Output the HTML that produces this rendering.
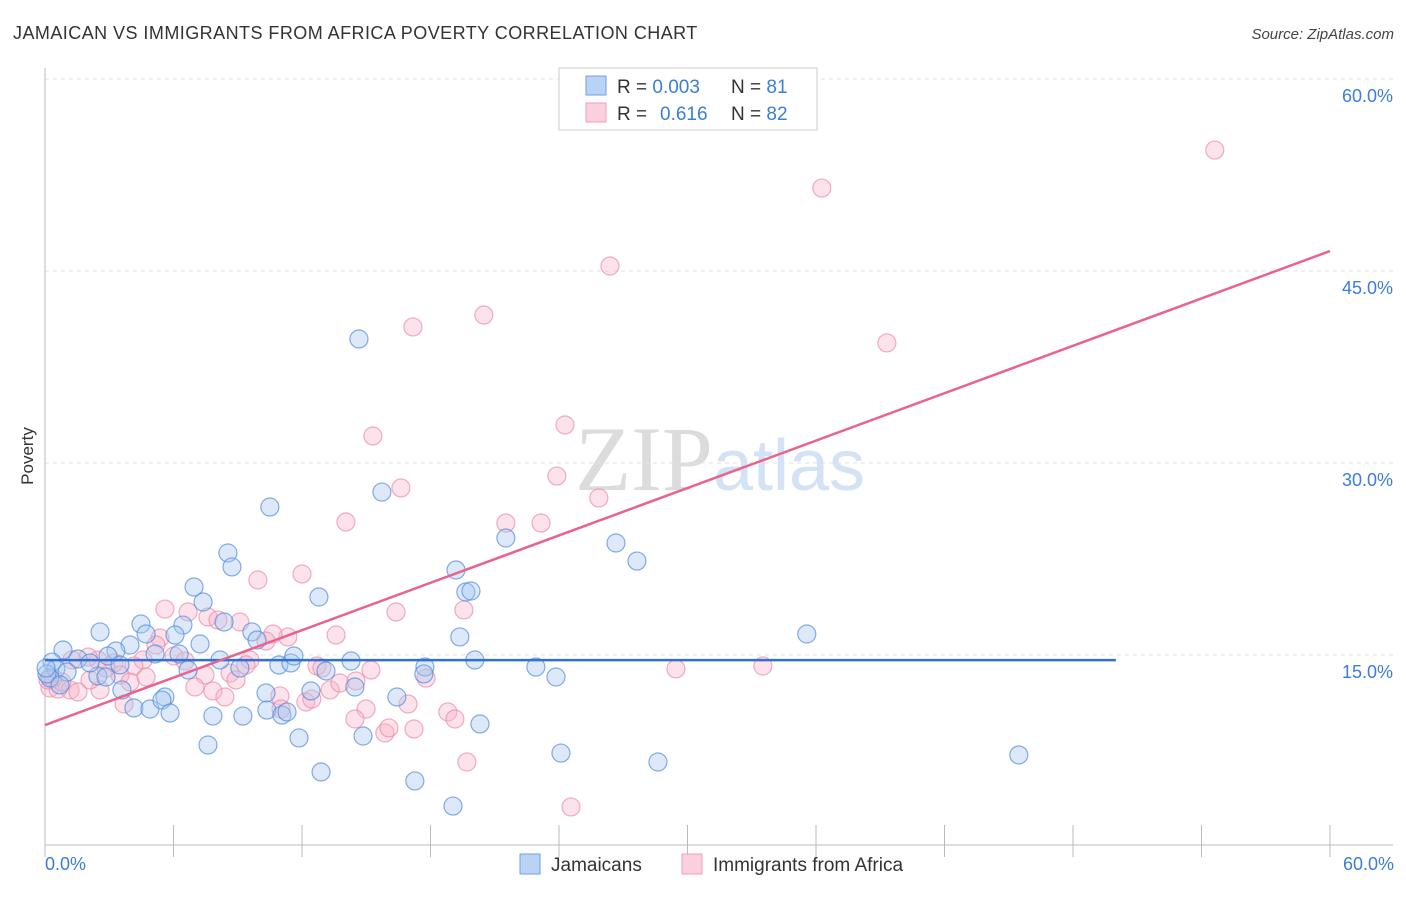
<!DOCTYPE html>
<html><head><meta charset="utf-8"><style>
body{margin:0;background:#fff;font-family:"Liberation Sans",sans-serif}
svg text{font-family:"Liberation Sans",sans-serif}
</style></head><body>
<svg id="chart" width="1406" height="892" viewBox="0 0 1406 892" xmlns="http://www.w3.org/2000/svg">
<text x="13" y="39" font-size="18" fill="#333" letter-spacing="0.45">JAMAICAN VS IMMIGRANTS FROM AFRICA POVERTY CORRELATION CHART</text>
<text x="1394" y="39" font-size="15" fill="#444" font-style="italic" text-anchor="end">Source: ZipAtlas.com</text>
<text x="720" y="490" font-size="92" text-anchor="middle"><tspan font-family="Liberation Serif,serif" fill="#dcdcdc">ZIP</tspan><tspan fill="#d3e2f4" font-size="72">atlas</tspan></text>
<g id="grid"></g>
<line x1="45" y1="68" x2="45" y2="845" stroke="#bbb"/>
<line x1="45" y1="845" x2="1393" y2="845" stroke="#bbb"/>
<g id="xticks"></g>
<text transform="translate(33,456) rotate(-90)" font-size="17" fill="#333" text-anchor="middle">Poverty</text>
<text x="45" y="870" font-size="18" fill="#3b7dd8">0.0%</text>
<text x="1394" y="870" font-size="18" fill="#3b7dd8" text-anchor="end">60.0%</text>
<g id="pts"></g>
<g id="lines"></g>
<g>
<rect x="559" y="68" width="258" height="62" fill="#fff" stroke="#ccc"/>
<rect x="586" y="76" width="20" height="19" fill="#b9d3f5" stroke="#6f9fe0"/>
<rect x="586" y="103" width="20" height="19" fill="#fbd0dd" stroke="#ef9fb8"/>
<text x="617" y="93" font-size="19" fill="#333">R = <tspan fill="#3b7dd8">0.003</tspan><tspan x="731">N = </tspan><tspan fill="#3b7dd8">81</tspan></text>
<text x="617" y="120" font-size="19" fill="#333">R = <tspan fill="#3b7dd8" x="660">0.616</tspan><tspan x="731">N = </tspan><tspan fill="#3b7dd8">82</tspan></text>
</g>
<g>
<rect x="520" y="854" width="20" height="20" fill="#b9d3f5" stroke="#6f9fe0"/>
<text x="551" y="871" font-size="19" fill="#333">Jamaicans</text>
<rect x="682" y="854" width="20" height="20" fill="#fbd0dd" stroke="#ef9fb8"/>
<text x="713" y="871" font-size="19" fill="#333">Immigrants from Africa</text>
</g>
</svg>
<script>
const yTicks=[15,30,45,60];
const xTickVals=[0,6,12,18,24,30,36,42,48,54,60];
const blueX=[14.66,15.73,10.50,21.52,26.66,27.64,8.54,8.73,19.19,19.65,19.89,6.96,7.38,12.79,35.57,2.57,4.48,6.44,4.72,6.07,8.36,7.24,9.66,9.90,19.37,3.97,0.84,3.31,1.54,2.94,5.14,6.26,8.17,10.92,11.48,11.62,14.29,17.74,20.07,22.92,17.69,13.12,6.68,9.10,0.33,0.51,1.03,0.23,2.47,2.85,3.59,4.15,4.90,5.60,5.46,5.84,7.84,9.24,10.32,12.42,14.47,16.43,10.36,11.06,11.30,11.86,14.85,20.31,23.86,24.09,28.62,45.47,7.61,12.89,17.27,19.05,0.09,0.70,0.05,2.10,3.50];
const blueY=[39.69,27.73,26.56,24.14,23.75,22.34,22.97,21.88,21.64,19.92,20.00,20.31,19.14,19.53,16.64,16.80,17.42,17.34,16.64,16.56,17.58,15.86,16.80,16.17,16.41,15.78,15.39,15.31,14.69,14.92,15.08,15.08,14.61,14.22,14.38,14.92,14.53,14.06,14.61,14.06,13.52,13.75,13.83,13.98,14.45,13.91,13.67,13.20,13.36,13.28,12.27,10.86,10.78,11.72,11.48,10.47,10.23,10.23,12.03,12.19,12.50,11.72,10.70,10.31,10.55,8.52,8.67,9.61,13.28,7.34,6.64,7.19,7.97,5.86,5.16,3.20,13.52,12.66,13.98,14.38,14.22];
const pinkX=[54.62,36.27,26.38,20.49,17.18,39.31,15.31,24.28,23.90,16.62,25.86,14.05,21.52,23.16,9.94,12.00,5.60,6.68,7.61,8.08,9.10,19.56,16.39,13.59,11.34,10.64,10.32,5.37,5.18,6.02,6.54,9.57,9.38,8.64,7.47,12.70,12.93,15.22,17.79,29.46,33.52,4.58,4.15,3.22,2.47,2.01,3.50,2.85,3.97,2.57,3.69,7.00,7.84,8.40,8.92,10.97,11.02,12.18,12.46,13.31,13.77,14.52,14.99,14.47,15.87,16.06,17.23,16.95,18.81,19.14,19.70,24.56,0.23,0.61,1.17,1.54,0.79,0.14,0.37,2.10,4.72,1.26];
const pinkY=[54.45,51.48,45.39,41.56,40.63,39.38,32.11,32.97,28.98,28.05,27.27,25.39,25.31,25.31,20.86,21.33,18.59,18.36,17.97,17.73,17.58,18.52,18.36,16.56,16.41,16.64,16.09,16.33,15.78,14.92,14.53,14.61,14.22,13.59,13.44,14.14,13.98,13.83,13.20,13.91,14.14,14.61,14.14,14.38,14.61,14.84,13.44,13.98,12.89,12.27,11.17,12.50,12.19,11.72,13.05,11.80,10.78,11.33,11.56,12.27,12.81,12.97,10.78,10.00,8.91,9.30,9.22,11.17,10.55,10.00,6.64,3.13,12.42,12.34,12.27,12.11,12.89,13.05,13.20,13.05,13.28,14.61];
const blueTrend=[[0,14.6],[50,14.6]];
const pinkTrend=[[0,9.53],[60,46.56]];
const NS='http://www.w3.org/2000/svg';
const sx=v=>45+v/60*1285;
const sy=v=>847-v/15*192;
function mk(t,a,p){const e=document.createElementNS(NS,t);for(const k in a)e.setAttribute(k,a[k]);p.appendChild(e);return e;}
const grid=document.getElementById('grid');
yTicks.forEach(t=>{
 const l=mk('line',{x1:45,x2:1393,y1:sy(t),y2:sy(t),stroke:'#e2e2e2','stroke-dasharray':'4,4'},grid);
 
 
 const tx=mk('text',{x:1393,y:sy(t)+23,'font-size':18,fill:'#3b7dd8','text-anchor':'end'},grid);
 tx.textContent=t.toFixed(1)+'%';
 
 
});
const xt=document.getElementById('xticks');
xTickVals.forEach(t=>{
 const l=mk('line',{x1:sx(t),x2:sx(t),y1:825,y2:857,stroke:'#bbb'},xt);
 
 
});
const pts=document.getElementById('pts');
function plot(X,Y,fill,stroke,name){
 X.forEach((x,i)=>{
  const c=mk('circle',{cx:sx(x),cy:sy(Y[i]),r:9,fill:fill,'fill-opacity':0.4,stroke:stroke,'stroke-opacity':0.7,'stroke-width':1.2},pts);
  
  
 });
}
plot(pinkX,pinkY,'#f7b6ca','#ec8aa8','africa-point');
plot(blueX,blueY,'#a9c8f0','#4f8ae0','jamaican-point');
const ln=document.getElementById('lines');
const bl=mk('line',{x1:sx(blueTrend[0][0]),y1:sy(blueTrend[0][1]),x2:sx(blueTrend[1][0]),y2:sy(blueTrend[1][1]),stroke:'#2f6fd6','stroke-width':2.5},ln);


const pl=mk('line',{x1:sx(pinkTrend[0][0]),y1:sy(pinkTrend[0][1]),x2:sx(pinkTrend[1][0]),y2:sy(pinkTrend[1][1]),stroke:'#e8648f','stroke-width':2.5},ln);


</script>
</body></html>
